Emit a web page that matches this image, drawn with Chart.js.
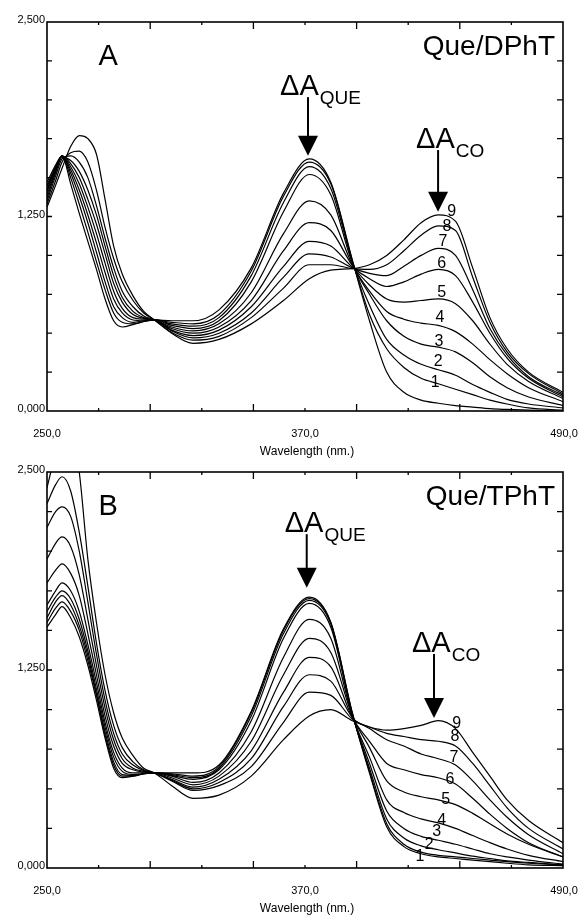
<!DOCTYPE html>
<html>
<head>
<meta charset="utf-8">
<script src="https://cdn.jsdelivr.net/npm/chart.js@4.4.1/dist/chart.umd.min.js"></script>
<style>
  html, body { margin: 0; padding: 0; background: #fff; }
  #wrap { position: relative; width: 579px; height: 918px; }
  .panel { position: absolute; left: 0; width: 579px; height: 459px; }
</style>
</head>
<body>
<div id="wrap">
  <div class="panel" style="top:0"><canvas id="chartA" width="579" height="459"></canvas></div>
  <div class="panel" style="top:459px"><canvas id="chartB" width="579" height="459"></canvas></div>
</div>
<script>
// wavelength grid (nm) the spectra were read at
const wavelengths = [250, 254, 257, 261, 265, 269, 273, 277, 281, 285, 290, 295, 300,
  308, 318, 330, 345, 360, 372, 382, 392,
  400, 408, 416, 424, 432, 440, 448, 456, 464, 474, 490];

// Panel A - Que/DPhT, scan 0 (unlabelled) to scan 9
const dpht0 = [1.47, 1.58, 1.64, 1.46, 1.27, 1.09, 0.91, 0.72, 0.58, 0.54, 0.555, 0.575, 0.585,
  0.58, 0.58, 0.65, 0.92, 1.40, 1.62, 1.47, 0.97,
  0.58, 0.25, 0.12, 0.07, 0.05, 0.035, 0.025, 0.015, 0.01, 0.005, 0.0];
const dpht1 = [1.45, 1.57, 1.64, 1.50, 1.33, 1.15, 0.96, 0.78, 0.63, 0.57, 0.56, 0.575, 0.585,
  0.57, 0.56, 0.62, 0.90, 1.38, 1.60, 1.46, 0.97,
  0.62, 0.40, 0.28, 0.21, 0.175, 0.14, 0.105, 0.07, 0.045, 0.02, 0.005];
const dpht2 = [1.44, 1.56, 1.64, 1.53, 1.38, 1.21, 1.02, 0.83, 0.67, 0.60, 0.57, 0.58, 0.585,
  0.56, 0.545, 0.60, 0.87, 1.34, 1.57, 1.43, 0.96,
  0.68, 0.46, 0.36, 0.30, 0.265, 0.23, 0.17, 0.12, 0.075, 0.045, 0.02];
const dpht3 = [1.42, 1.56, 1.64, 1.55, 1.42, 1.26, 1.08, 0.89, 0.72, 0.63, 0.585, 0.58, 0.585,
  0.55, 0.53, 0.58, 0.83, 1.28, 1.52, 1.39, 0.95,
  0.75, 0.58, 0.48, 0.43, 0.41, 0.38, 0.31, 0.22, 0.15, 0.09, 0.035];
const dpht4 = [1.41, 1.55, 1.64, 1.57, 1.46, 1.31, 1.14, 0.95, 0.77, 0.66, 0.60, 0.59, 0.585,
  0.54, 0.515, 0.56, 0.76, 1.14, 1.35, 1.26, 0.94,
  0.77, 0.64, 0.59, 0.565, 0.55, 0.51, 0.43, 0.33, 0.24, 0.15, 0.06];
const dpht5 = [1.39, 1.54, 1.64, 1.59, 1.50, 1.36, 1.20, 1.01, 0.82, 0.70, 0.62, 0.595, 0.585,
  0.53, 0.50, 0.54, 0.71, 1.03, 1.21, 1.16, 0.935,
  0.81, 0.72, 0.70, 0.71, 0.72, 0.69, 0.58, 0.43, 0.30, 0.19, 0.08];
const dpht6 = [1.37, 1.53, 1.63, 1.61, 1.54, 1.42, 1.26, 1.06, 0.87, 0.73, 0.64, 0.60, 0.585,
  0.52, 0.485, 0.52, 0.67, 0.93, 1.09, 1.06, 0.925,
  0.85, 0.80, 0.83, 0.88, 0.91, 0.87, 0.70, 0.50, 0.34, 0.21, 0.09];
const dpht7 = [1.35, 1.51, 1.62, 1.64, 1.60, 1.50, 1.32, 1.11, 0.92, 0.77, 0.67, 0.61, 0.585,
  0.515, 0.47, 0.50, 0.63, 0.86, 1.01, 0.99, 0.92,
  0.885, 0.87, 0.93, 1.00, 1.045, 1.00, 0.78, 0.53, 0.36, 0.22, 0.10];
const dpht8 = [1.33, 1.48, 1.60, 1.66, 1.67, 1.60, 1.42, 1.18, 0.98, 0.83, 0.71, 0.63, 0.585,
  0.505, 0.455, 0.48, 0.60, 0.79, 0.94, 0.94, 0.915,
  0.91, 0.94, 1.03, 1.13, 1.19, 1.16, 0.86, 0.57, 0.38, 0.24, 0.11];
const dpht9 = [1.31, 1.45, 1.56, 1.70, 1.77, 1.75, 1.65, 1.36, 1.06, 0.88, 0.74, 0.64, 0.585,
  0.50, 0.435, 0.46, 0.56, 0.71, 0.85, 0.905, 0.915,
  0.94, 1.00, 1.10, 1.21, 1.26, 1.22, 0.92, 0.60, 0.40, 0.25, 0.12];

// Panel B - Que/TPhT
const tpht0 = [1.52, 1.60, 1.65, 1.58, 1.46, 1.28, 1.06, 0.82, 0.63, 0.57, 0.58, 0.595, 0.60,
  0.60, 0.60, 0.65, 0.99, 1.51, 1.71, 1.55, 0.98,
  0.60, 0.26, 0.135, 0.09, 0.07, 0.06, 0.05, 0.04, 0.03, 0.02, 0.015];
const tpht1 = [1.55, 1.64, 1.68, 1.62, 1.50, 1.31, 1.09, 0.84, 0.65, 0.58, 0.58, 0.595, 0.60,
  0.595, 0.58, 0.64, 0.98, 1.50, 1.70, 1.55, 0.98,
  0.61, 0.28, 0.15, 0.10, 0.08, 0.07, 0.06, 0.05, 0.04, 0.03, 0.02];
const tpht2 = [1.58, 1.68, 1.72, 1.66, 1.53, 1.34, 1.10, 0.86, 0.67, 0.59, 0.585, 0.595, 0.60,
  0.59, 0.57, 0.63, 0.96, 1.48, 1.69, 1.54, 0.97,
  0.63, 0.31, 0.19, 0.14, 0.115, 0.095, 0.075, 0.06, 0.045, 0.035, 0.02];
const tpht3 = [1.62, 1.71, 1.75, 1.70, 1.57, 1.37, 1.13, 0.89, 0.70, 0.61, 0.59, 0.595, 0.60,
  0.585, 0.56, 0.62, 0.93, 1.45, 1.67, 1.52, 0.97,
  0.66, 0.36, 0.25, 0.20, 0.175, 0.15, 0.12, 0.09, 0.07, 0.05, 0.025];
const tpht4 = [1.66, 1.75, 1.80, 1.75, 1.62, 1.41, 1.17, 0.92, 0.73, 0.63, 0.60, 0.60, 0.60,
  0.58, 0.54, 0.60, 0.86, 1.33, 1.57, 1.45, 0.96,
  0.70, 0.43, 0.35, 0.31, 0.285, 0.25, 0.205, 0.16, 0.12, 0.08, 0.04];
const tpht5 = [1.80, 1.88, 1.92, 1.86, 1.72, 1.48, 1.22, 0.96, 0.77, 0.66, 0.62, 0.605, 0.60,
  0.57, 0.525, 0.58, 0.80, 1.22, 1.45, 1.36, 0.96,
  0.76, 0.55, 0.48, 0.45, 0.43, 0.40, 0.345, 0.28, 0.215, 0.15, 0.07];
const tpht6 = [1.95, 2.05, 2.09, 2.03, 1.85, 1.57, 1.28, 1.01, 0.81, 0.69, 0.63, 0.61, 0.60,
  0.56, 0.51, 0.56, 0.74, 1.11, 1.33, 1.27, 0.95,
  0.80, 0.66, 0.62, 0.59, 0.57, 0.53, 0.44, 0.34, 0.25, 0.16, 0.07];
const tpht7 = [2.15, 2.25, 2.28, 2.22, 2.00, 1.68, 1.35, 1.06, 0.85, 0.72, 0.65, 0.615, 0.60,
  0.555, 0.50, 0.54, 0.69, 1.02, 1.22, 1.18, 0.95,
  0.88, 0.81, 0.77, 0.72, 0.69, 0.65, 0.55, 0.43, 0.32, 0.21, 0.09];
const tpht8 = [2.30, 2.42, 2.47, 2.38, 2.12, 1.78, 1.42, 1.12, 0.90, 0.76, 0.67, 0.62, 0.60,
  0.55, 0.49, 0.52, 0.64, 0.92, 1.11, 1.09, 0.94,
  0.89, 0.85, 0.83, 0.81, 0.80, 0.77, 0.66, 0.52, 0.38, 0.25, 0.12];
const tpht9 = [2.40, 2.62, 2.75, 2.80, 2.50, 1.95, 1.55, 1.22, 0.98, 0.82, 0.71, 0.63, 0.60,
  0.52, 0.44, 0.46, 0.58, 0.81, 0.96, 1.00, 0.93,
  0.89, 0.87, 0.88, 0.90, 0.93, 0.88, 0.73, 0.58, 0.43, 0.30, 0.16];

// scan numbers and where they sit (wavelength, absorbance)
const scanLabels = ['1', '2', '3', '4', '5', '6', '7', '8', '9'];
const dphtLabelX = [430.5, 431.9, 432.3, 432.8, 433.6, 433.6, 434.2, 436.0, 438.2];
const dphtLabelY = [0.18, 0.315, 0.445, 0.60, 0.76, 0.95, 1.09, 1.185, 1.28];
const tphtLabelX = [423.5, 427.8, 431.3, 433.6, 435.4, 437.4, 439.3, 439.8, 440.6];
const tphtLabelY = [0.07, 0.145, 0.227, 0.30, 0.43, 0.56, 0.70, 0.83, 0.913];

// axis ticks and labels
const xLabelValues = [250, 370, 490];
const xTickLabels = ['250,0', '370,0', '490,0'];
const xMajorTicks = [298, 346, 394, 442];
const xMinorTicks = [274, 322, 370, 418, 466];
const yLabelValues = [0, 1.25, 2.5];
const yTickLabels = ['0,000', '1,250', '2,500'];
const yTicks = [0.25, 0.5, 0.75, 1.0, 1.25, 1.5, 1.75, 2.0, 2.25];

const tickFont = '11px "Liberation Sans", Arial, sans-serif';
const bigFont = '"Liberation Sans", Arial, sans-serif';

function drawDelta(ctx, x, y, ar) {
  const px = x.getPixelForValue(ar.x);
  const base = y.getPixelForValue(ar.base);
  const tip = y.getPixelForValue(ar.tip);
  ctx.fillStyle = '#000';
  ctx.textAlign = 'left';
  ctx.textBaseline = 'alphabetic';
  ctx.font = '29px ' + bigFont;
  const left = px - ar.shift;
  ctx.fillText('ΔA', left, base);
  const w = ctx.measureText('ΔA').width;
  ctx.font = '19px ' + bigFont;
  ctx.fillText(ar.sub, left + w + 1, base + 9);
  ctx.lineWidth = 2;
  ctx.beginPath();
  ctx.moveTo(px, base + 2);
  ctx.lineTo(px, tip - 18);
  ctx.stroke();
  ctx.beginPath();
  ctx.moveTo(px - 10, tip - 20);
  ctx.lineTo(px + 10, tip - 20);
  ctx.lineTo(px, tip);
  ctx.closePath();
  ctx.fill();
}

const frameAndText = {
  id: 'frameAndText',
  afterDatasetsDraw(chart, args, opts) {
    const { ctx, chartArea: a, scales: { x, y } } = chart;
    ctx.save();
    ctx.strokeStyle = '#000';
    ctx.fillStyle = '#000';

    // frame
    ctx.lineWidth = 1.6;
    ctx.strokeRect(a.left, a.top, a.right - a.left, a.bottom - a.top);

    // inward ticks
    ctx.lineWidth = 1.3;
    ctx.beginPath();
    xMajorTicks.forEach(v => {
      const px = x.getPixelForValue(v);
      ctx.moveTo(px, a.bottom); ctx.lineTo(px, a.bottom - 7);
      ctx.moveTo(px, a.top); ctx.lineTo(px, a.top + 7);
    });
    xMinorTicks.forEach(v => {
      const px = x.getPixelForValue(v);
      ctx.moveTo(px, a.bottom); ctx.lineTo(px, a.bottom - 3);
      ctx.moveTo(px, a.top); ctx.lineTo(px, a.top + 3);
    });
    yTicks.forEach(v => {
      const py = y.getPixelForValue(v);
      ctx.moveTo(a.left, py); ctx.lineTo(a.left + 5, py);
      ctx.moveTo(a.right, py); ctx.lineTo(a.right - 6, py);
    });
    ctx.stroke();

    // tick labels
    ctx.font = tickFont;
    ctx.textAlign = 'right';
    ctx.textBaseline = 'middle';
    yLabelValues.forEach((v, i) => {
      ctx.fillText(yTickLabels[i], a.left - 2, y.getPixelForValue(v) - 2);
    });
    ctx.textAlign = 'center';
    xLabelValues.forEach((v, i) => {
      ctx.fillText(xTickLabels[i], x.getPixelForValue(v) + (i === 2 ? 1 : 0), a.bottom + 23);
    });
    ctx.font = '12px "Liberation Sans", Arial, sans-serif';
    ctx.fillText('Wavelength (nm.)', (a.left + a.right) / 2 + 2, a.bottom + 41);

    // panel letter and sample name
    ctx.textBaseline = 'middle';
    ctx.font = '29px ' + bigFont;
    ctx.fillText(opts.letter, x.getPixelForValue(278.4), a.top + 35);
    ctx.textAlign = 'right';
    ctx.textBaseline = 'alphabetic';
    ctx.font = '28px ' + bigFont;
    ctx.fillText(opts.sample, a.right - 8, a.top + 33);

    // band arrows
    opts.arrows.forEach(ar => drawDelta(ctx, x, y, ar));

    // scan numbers
    ctx.font = '16px ' + bigFont;
    ctx.textAlign = 'center';
    ctx.textBaseline = 'middle';
    scanLabels.forEach((t, i) => {
      ctx.fillText(t, x.getPixelForValue(opts.labelX[i]), y.getPixelForValue(opts.labelY[i]));
    });
    ctx.restore();
  }
};

function makeDatasets(scans) {
  return scans.map(s => ({
    data: wavelengths.map((w, i) => ({ x: w, y: s[i] })),
    borderColor: '#000',
    borderWidth: 1.2,
    pointRadius: 0,
    fill: false,
    cubicInterpolationMode: 'monotone'
  }));
}

function makeChart(id, scans, padding, plug) {
  return new Chart(document.getElementById(id), {
    type: 'line',
    data: { datasets: makeDatasets(scans) },
    options: {
      responsive: false,
      animation: false,
      layout: { padding },
      plugins: {
        legend: { display: false },
        tooltip: { enabled: false },
        frameAndText: plug
      },
      scales: {
        x: { type: 'linear', min: 250, max: 490, display: false },
        y: { min: 0, max: 2.5, display: false }
      }
    },
    plugins: [frameAndText]
  });
}

makeChart('chartA',
  [dpht0, dpht1, dpht2, dpht3, dpht4, dpht5, dpht6, dpht7, dpht8, dpht9],
  { left: 47, top: 22, right: 16, bottom: 48 },
  {
    letter: 'A', sample: 'Que/DPhT',
    labelX: dphtLabelX, labelY: dphtLabelY,
    arrows: [
      { sub: 'QUE', x: 371.4, base: 2.03, tip: 1.64, shift: 28 },
      { sub: 'CO', x: 431.9, base: 1.69, tip: 1.28, shift: 22 }
    ]
  });

makeChart('chartB',
  [tpht0, tpht1, tpht2, tpht3, tpht4, tpht5, tpht6, tpht7, tpht8, tpht9],
  { left: 47, top: 13, right: 16, bottom: 50 },
  {
    letter: 'B', sample: 'Que/TPhT',
    labelX: tphtLabelX, labelY: tphtLabelY,
    arrows: [
      { sub: 'QUE', x: 370.8, base: 2.12, tip: 1.77, shift: 22 },
      { sub: 'CO', x: 430.0, base: 1.364, tip: 0.947, shift: 22 }
    ]
  });
</script>
</body>
</html>
